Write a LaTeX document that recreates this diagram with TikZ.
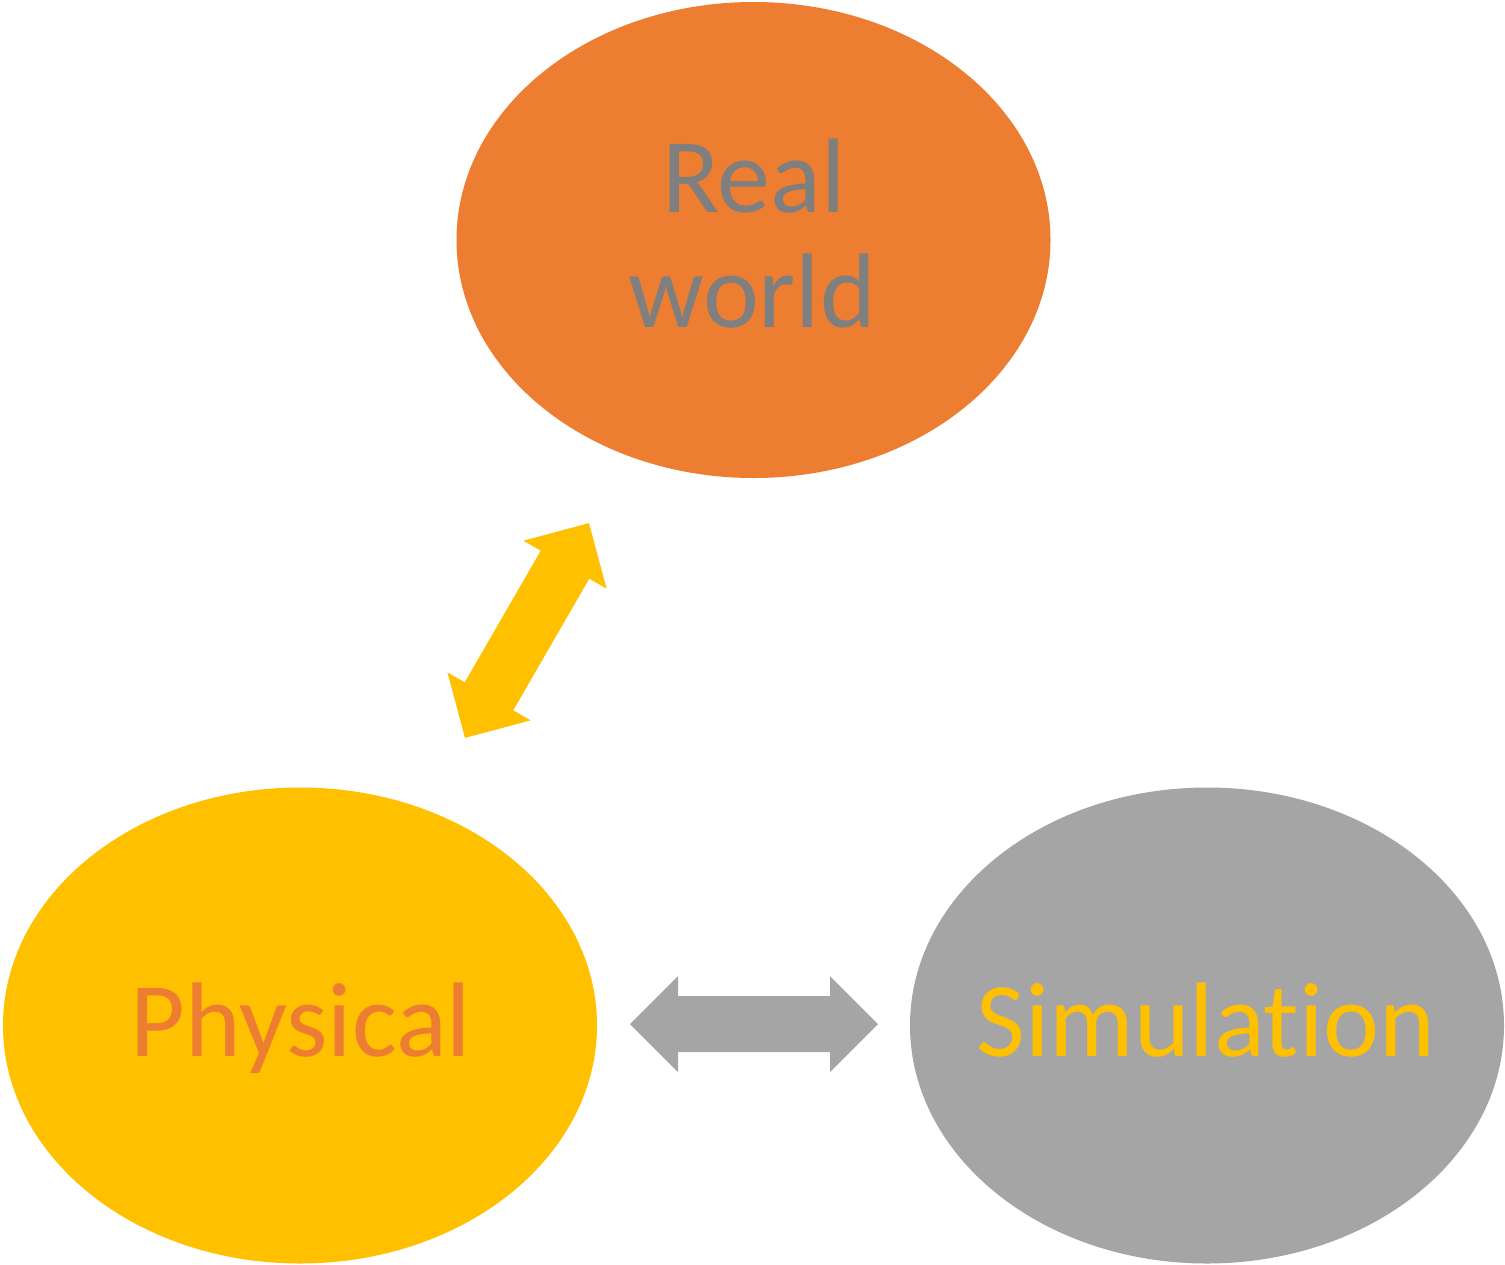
\documentclass[tikz,border=0pt]{standalone}
\usepackage{fontspec}
\setmainfont{Carlito}[RawFeature={-liga;-dlig;-clig}]
\usetikzlibrary{shapes.geometric}
\definecolor{cOrange}{HTML}{ED7D31}
\definecolor{cGold}{HTML}{FFC000}
\definecolor{cGray}{HTML}{A5A5A5}
\definecolor{cText}{HTML}{7F7F7F}
\tikzset{
  blob/.style={ellipse, draw=none, minimum width=594pt, minimum height=476pt, inner sep=0pt},
  lbl/.style={anchor=base, inner sep=0pt, font=\fontsize{106}{115}\selectfont},
}
\newcommand{\dblarrow}{(-124,0) -- (-76,48) -- (-76,28) -- (76,28) -- (76,48) -- (124,0) -- (76,-48) -- (76,-28) -- (-76,-28) -- (-76,-48) -- cycle}
\begin{document}
\begin{tikzpicture}[x=1pt,y=-1pt]
\useasboundingbox (0,0) rectangle (1505,1264);
\node[blob, fill=cOrange] (real) at (753.5,240) {};
\node[blob, fill=cGold] (phys) at (300,1025.5) {};
\node[blob, fill=cGray] (sim) at (1207,1025.5) {};
\node[lbl, text=cText] (realt1) at (754,212) {Real};
\node[lbl, text=cText] (realt2) at (752,327) {world};
\node[lbl, text=cOrange] (physt) at (301,1056) {Physical};
\node[lbl, text=cGold] (simt) at (1206,1056) {Simulation};
\coordinate (ha) at (754,1024);
\coordinate (va) at (527,630.5);
\begin{scope}[shift={(ha)}]
\fill[cGray] \dblarrow;
\end{scope}
\begin{scope}[shift={(va)}, rotate=60]
\fill[cGold] \dblarrow;
\end{scope}
\end{tikzpicture}
\end{document}
